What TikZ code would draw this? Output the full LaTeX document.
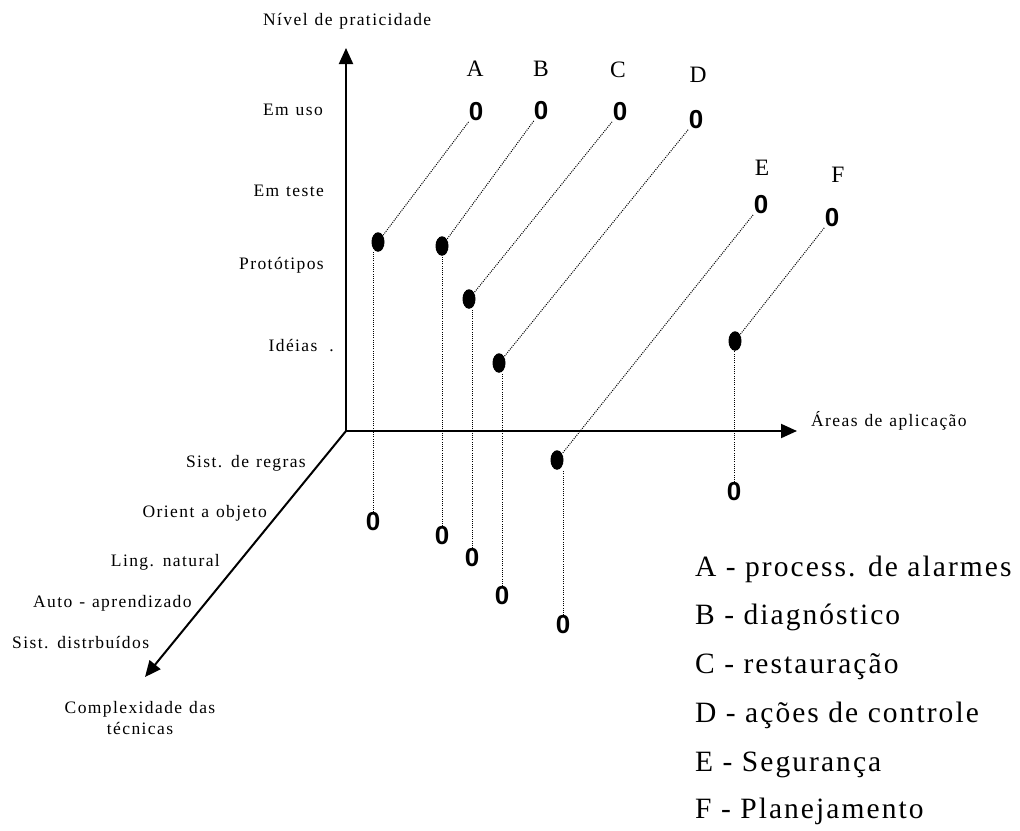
\documentclass[tikz,border=0pt]{standalone}
\usepackage{fontspec}
\setmainfont{Liberation Serif}
\newfontfamily\lblfont[LetterSpace=8,WordSpace=1.2]{Liberation Serif}
\newfontfamily\legfont[LetterSpace=7]{Liberation Serif}
\newfontfamily\markfont{Liberation Sans}
\usetikzlibrary{arrows.meta,shapes.geometric}

\begin{document}
\begin{tikzpicture}[x=1pt,y=-1pt,
  axis/.style={line width=2pt,-{Triangle[length=16pt,width=14pt]}},
  lbl/.style={inner sep=0pt,font=\lblfont\fontsize{17.5}{21}\selectfont},
  tag/.style={inner sep=0pt,anchor=base,font=\fontsize{23.5}{27}\selectfont},
  legend/.style={inner sep=0pt,anchor=base west,font=\legfont\fontsize{29.5}{34}\selectfont},
  zero/.style={inner sep=0.5pt,font=\markfont\bfseries\fontsize{26}{30}\selectfont},
  dot/.style={ellipse,fill=black,inner sep=0pt,minimum width=13pt,minimum height=19.5pt},
  guide/.style={line width=1pt,dash pattern=on 1pt off 1.2pt,black},
]
\useasboundingbox (0,0) rectangle (1020,830);

% axes
\coordinate (O) at (346,431);
\coordinate (ytip) at (346,48);
\coordinate (xtip) at (797,431);
\coordinate (ztip) at (145,677);
\draw[axis] (O) -- (ytip);
\draw[axis] (O) -- (xtip);
\draw[axis] (O) -- (ztip);

% axis titles
\node[lbl,anchor=base west] (ttly) at (263,25) {Nível de praticidade};
\node[lbl,anchor=base west] (ttlx) at (811,426) {Áreas de aplicação};
\node[lbl,anchor=north,align=center] (ttlz) at (140,701) {Complexidade das\\técnicas};

% levels of the vertical axis
\node[lbl,anchor=base east] (l1) at (323,115) {Em uso};
\node[lbl,anchor=base east] (l2) at (324,196) {Em teste};
\node[lbl,anchor=base east] (l3) at (324,269) {Protótipos};
\node[lbl,anchor=base east] (l4) at (334,351) {Idéias\hspace{12pt}.};

% levels of the depth axis
\node[lbl,anchor=base east] (c1) at (306,467) {Sist. de regras};
\node[lbl,anchor=base east] (c2) at (267,517) {Orient a objeto};
\node[lbl,anchor=base east] (c3) at (220,566) {Ling. natural};
\node[lbl,anchor=base west] (c4) at (33,607) {Auto - aprendizado};
\node[lbl,anchor=base west] (c5) at (12,648) {Sist. distrbuídos};

% area letters
\node[tag] (tA) at (475,76) {A};
\node[tag] (tB) at (541,76) {B};
\node[tag] (tC) at (618,77) {C};
\node[tag] (tD) at (698,82) {D};
\node[tag] (tE) at (762,175) {E};
\node[tag] (tF) at (838,182) {F};

% upper markers
\node[zero] (uA) at (476,112) {0};
\node[zero] (uB) at (541,111) {0};
\node[zero] (uC) at (620,112) {0};
\node[zero] (uD) at (696,120) {0};
\node[zero] (uE) at (761,205) {0};
\node[zero] (uF) at (832,218) {0};

% lower markers
\node[zero] (bA) at (373,522) {0};
\node[zero] (bB) at (442,536) {0};
\node[zero] (bC) at (472,558) {0};
\node[zero] (bD) at (502,596) {0};
\node[zero] (bE) at (563,625) {0};
\node[zero] (bF) at (734,492) {0};

% projected points
\node[dot] (pA) at (378,242) {};
\node[dot] (pB) at (442,246) {};
\node[dot] (pC) at (469,299) {};
\node[dot] (pD) at (499,363) {};
\node[dot] (pE) at (557,460) {};
\node[dot] (pF) at (735,341) {};

% projection guides
\foreach \k in {A,B,C,D,E,F}{
  \draw[guide] (u\k) -- (p\k);
  \draw[guide] (b\k) -- (b\k |- p\k.south);
}

% legend
\node[legend] (gA) at (695,576) {A - process. de alarmes};
\node[legend] (gB) at (695,624) {B - diagnóstico};
\node[legend] (gC) at (695,673) {C - restauração};
\node[legend] (gD) at (695,722) {D - ações de controle};
\node[legend] (gE) at (695,771) {E - Segurança};
\node[legend] (gF) at (695,818) {F - Planejamento};
\end{tikzpicture}
\end{document}
